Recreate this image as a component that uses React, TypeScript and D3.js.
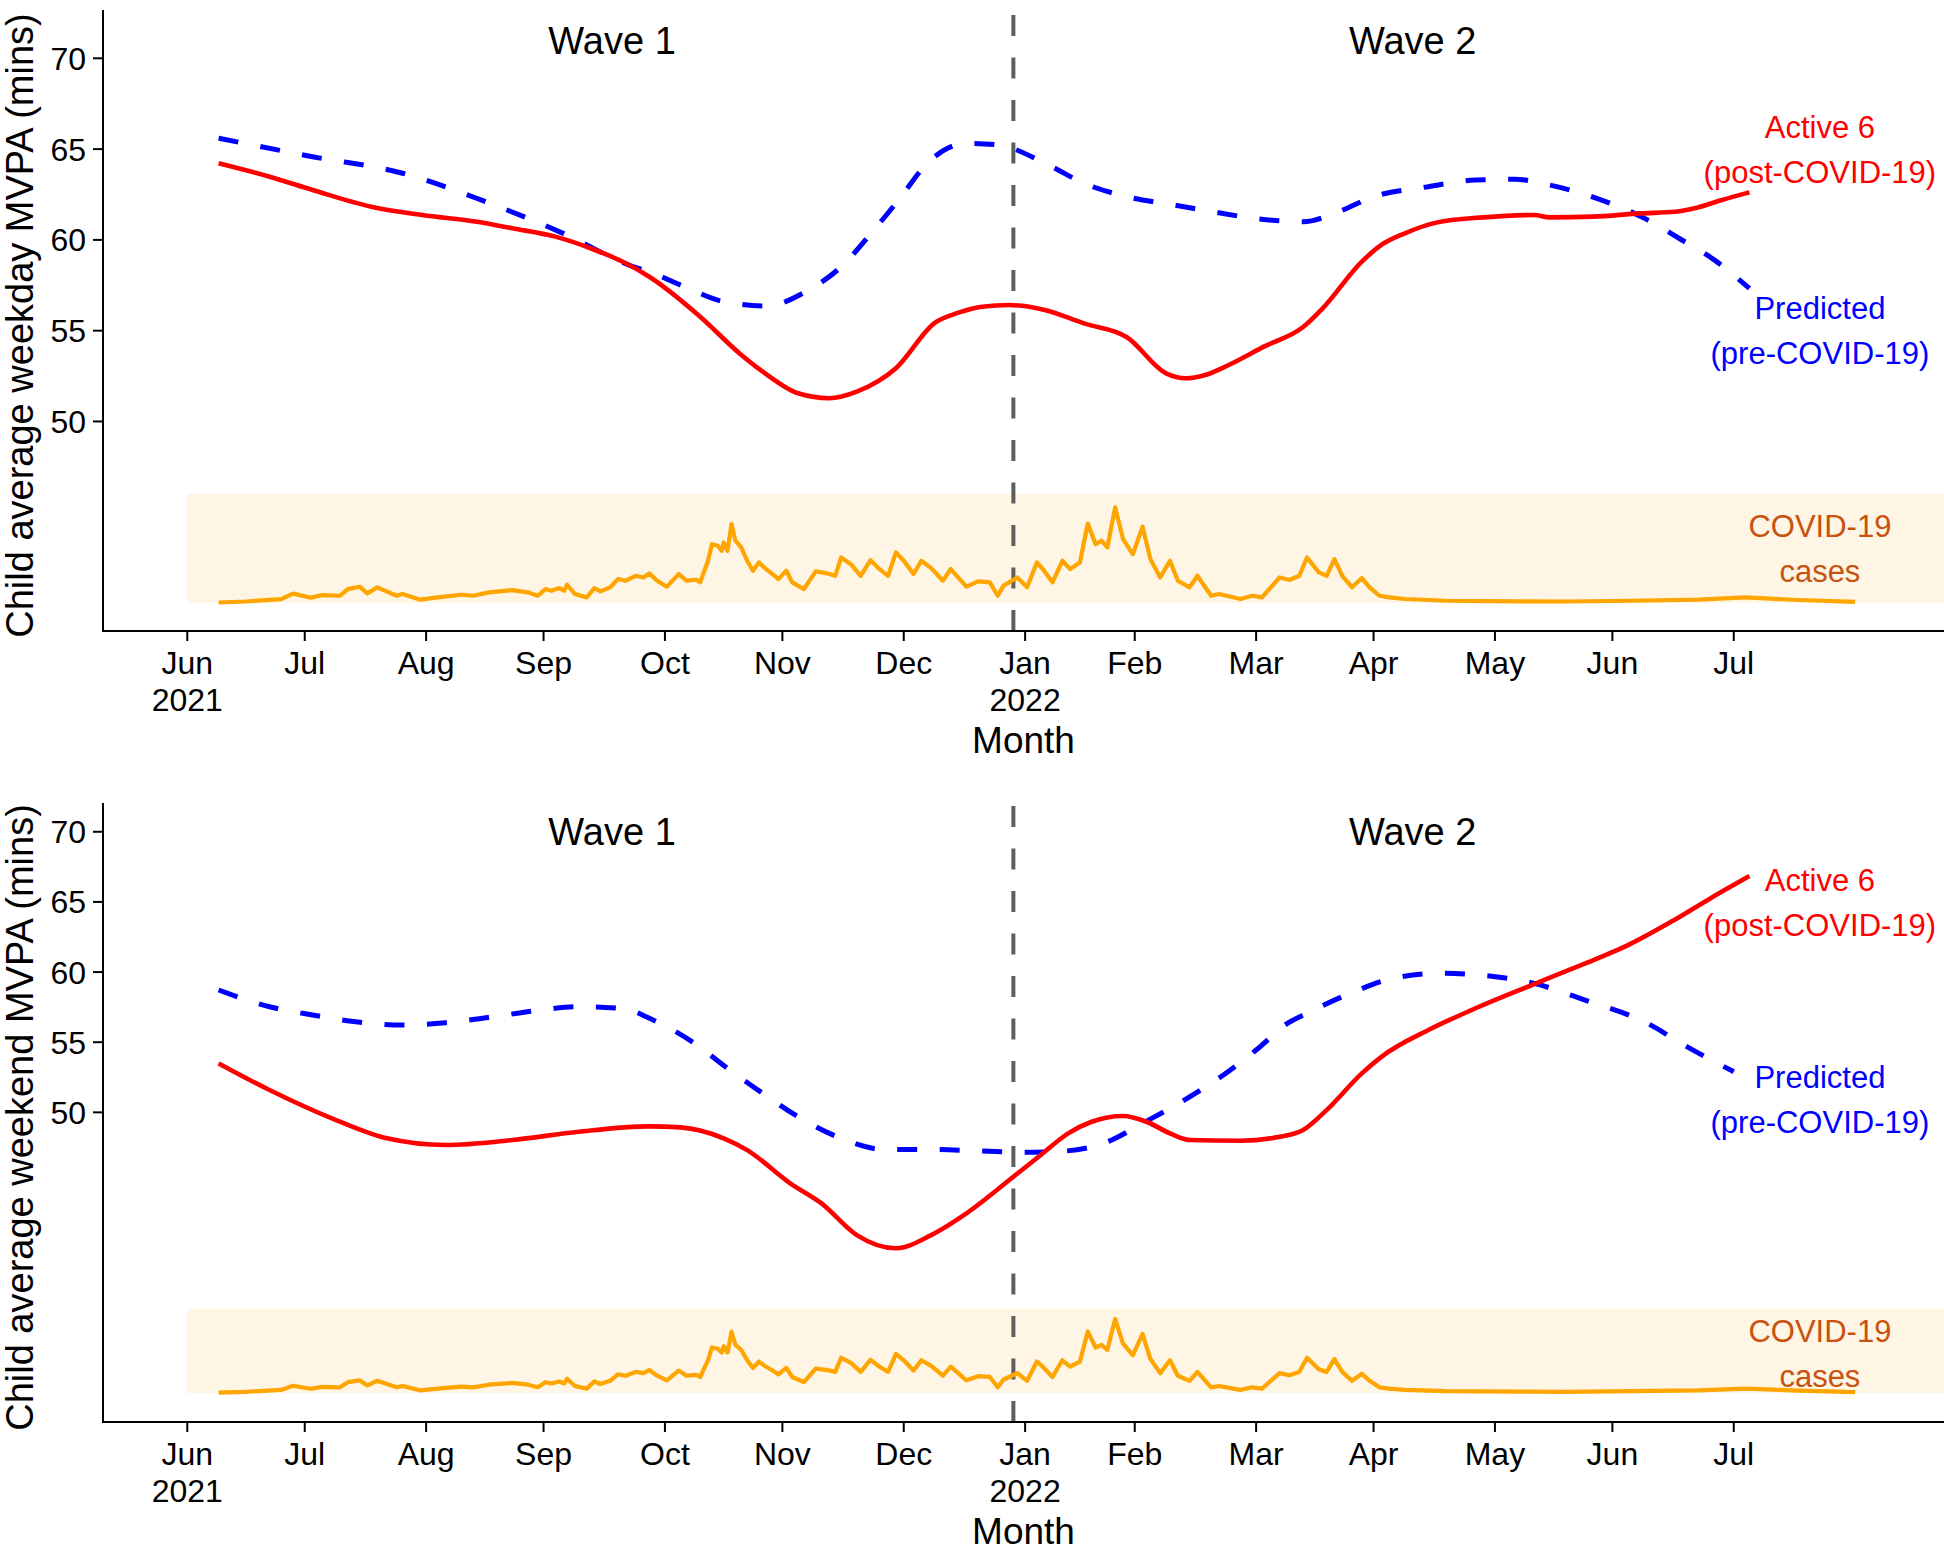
import React from "react";
import * as d3 from "d3";

const W = 1944;
const H = 1551;
const margin = { left: 103, right: 0 };
const fontFamily = "'Liberation Sans', Arial, Helvetica, sans-serif";

// x values are days since 1 June 2021
const xDomain = [-21.53, 448.7];
const monthTicks = [0, 30, 61, 91, 122, 152, 183, 214, 242, 273, 303, 334, 364, 395];
const monthLabels = ["Jun|2021", "Jul", "Aug", "Sep", "Oct", "Nov", "Dec", "Jan|2022", "Feb", "Mar", "Apr", "May", "Jun", "Jul"];
const yTicks = [50, 55, 60, 65, 70];
const waveDivider = 211;
const waveLabels = ["Wave 1", "Wave 2"];
const waveDays = [108.5, 313];
const labelDay = 417;

// weekday MVPA (mins)
const weekdayActive = [
  [8, 64.22], [21, 63.48], [32, 62.75], [47, 61.83], [60, 61.37], [74, 61.0], [83, 60.64],
  [94, 60.18], [103, 59.54], [112, 58.71], [118, 57.97], [131, 55.77], [141, 53.76],
  [147, 52.74], [156, 51.55], [164, 51.28], [171, 51.64], [181, 52.93], [191, 55.44],
  [197, 55.99], [203, 56.32], [210, 56.41], [219, 56.14], [229, 55.4], [240, 54.64],
  [250, 52.65], [255, 52.38], [260, 52.56], [266, 53.11], [275, 54.12], [285, 55.2],
  [290, 56.23], [300, 58.8], [305, 59.72], [311, 60.36], [319, 60.95], [331, 61.24],
  [344, 61.37], [348, 61.24], [359, 61.28], [371, 61.46], [380, 61.55], [385, 61.74],
  [392, 62.2], [399, 62.62],
];
const weekdayPredicted = [
  [8, 65.6], [32, 64.58], [55, 63.67], [75, 62.2], [96, 60.36], [114, 58.52], [118, 58.25],
  [127, 57.42], [137, 56.6], [148, 56.36], [158, 57.15], [167, 58.52], [175, 60.45],
  [182, 62.29], [189, 64.22], [199, 65.32], [207, 65.23], [220, 64.12], [229, 63.12],
  [240, 62.38], [252, 61.92], [262, 61.55], [272, 61.2], [285, 61.0], [294, 61.55],
  [303, 62.38], [317, 62.93], [329, 63.3], [339, 63.34], [348, 63.02], [360, 62.29],
  [373, 61.1], [381, 60.09], [390, 58.9], [399, 57.33],
];

// weekend MVPA (mins)
const weekendActive = [
  [8, 53.49], [21, 51.59], [38, 49.45], [51, 48.15], [66, 47.67], [83, 48.03], [100, 48.62],
  [118, 49.0], [126, 48.93], [137, 48.15], [143, 47.31], [154, 44.94], [162, 43.51],
  [171, 41.25], [181, 40.31], [190, 41.25], [199, 42.8], [211, 45.41], [218, 46.96],
  [225, 48.5], [231, 49.33], [239, 49.74], [245, 49.33], [251, 48.5], [256, 48.03],
  [269, 47.98], [279, 48.26], [285, 48.74], [291, 50.16], [300, 52.78], [305, 53.96],
  [317, 55.87], [328, 57.29], [344, 59.14], [356, 60.5], [368, 61.92], [379, 63.58],
  [389, 65.25], [399, 66.84],
];
const weekendPredicted = [
  [8, 58.72], [21, 57.53], [32, 56.94], [43, 56.46], [55, 56.22], [66, 56.39], [78, 56.81],
  [89, 57.24], [100, 57.53], [111, 57.41], [119, 56.58], [129, 55.03], [138, 53.14],
  [147, 51.35], [156, 49.69], [166, 48.26], [178, 47.36], [190, 47.36], [203, 47.24],
  [214, 47.15], [224, 47.24], [235, 47.9], [244, 49.22], [254, 50.76], [264, 52.54],
  [273, 54.44], [281, 56.34], [286, 57.06], [297, 58.48], [308, 59.55], [320, 59.91],
  [330, 59.79], [344, 59.19], [357, 58.0], [373, 56.34], [383, 54.68], [395, 52.9],
];

// daily COVID-19 cases, as % of the shaded band height
const caseLevel = [
  [8, 0.5], [15, 1.4], [24, 3.6], [27, 8.6], [31.5, 5], [34.5, 7.3], [39, 6.7], [41, 12.8],
  [44, 15], [46, 8.9], [48.5, 14.4], [53.5, 6.7], [55, 8.3], [59.5, 3.1], [64, 5.2], [70, 7.6],
  [73, 6.7], [77, 9.8], [83, 11.9], [87, 9.8], [89.5, 6.7], [91.5, 12.8], [93, 11.3],
  [95, 13.7], [96.3, 11.3], [97, 16.8], [99, 8.3], [102, 5.2], [104, 13.7], [105.5, 10.7],
  [108, 14.4], [110, 22], [112, 20.5], [114.5, 25], [116.5, 23.5], [118, 27.2], [120, 20.5],
  [122.5, 15], [125.5, 26.6], [127.5, 20.5], [130, 21.4], [131, 19], [133, 38.8], [134, 54],
  [135.5, 52.5], [136.5, 48], [137, 55.6], [138, 48], [139, 72.5], [140, 57.2], [141.5, 51],
  [143, 38.8], [144.5, 29.7], [146, 37.3], [147.5, 32.1], [149.5, 26.6], [151, 22],
  [153, 29.7], [154.5, 19], [157.5, 12.8], [160.5, 29], [163.5, 27.2], [165.5, 25],
  [167, 41.8], [169.5, 35.7], [172, 25], [174.5, 39.4], [176.5, 32.1], [179, 25], [181, 46.4],
  [183, 38.8], [185.5, 26.6], [187.5, 38.8], [190, 32.1], [193, 20.5], [195, 31.2], [199, 15],
  [202, 19.9], [205, 19], [207, 6.7], [208.5, 16], [212, 23.5], [214.5, 14.4], [217, 37.3],
  [218.5, 31.2], [221, 19], [223.5, 38.8], [225.5, 31.2], [228, 37.3], [230, 73], [232, 54],
  [233.5, 57.2], [235, 51], [237, 87.8], [239, 58.7], [241.5, 44.9], [244, 70], [246, 40.3],
  [248.5, 23.5], [251, 38.8], [253, 20.5], [256, 14.4], [258, 25], [261.5, 6.7], [263.5, 8.3],
  [269, 3.7], [272, 6.7], [274.5, 5.2], [279, 23.5], [281.5, 21.1], [284, 25], [286, 41.8],
  [289, 28.1], [291, 25], [293, 40.3], [295, 25], [297.5, 14.4], [300, 22.9], [302, 14.4],
  [304.5, 6.7], [307, 5.2], [311, 3.7], [321.5, 2.1], [340, 1.6], [352, 1.4], [369, 2.1],
  [386, 3.1], [398, 5.2], [411.5, 2.8], [426, 1],
];

const panels = [
  {
    top: 10, bottom: 631, yDomain: [38.46, 72.66], band: [40, 46],
    active: weekdayActive, predicted: weekdayPredicted,
    title: "Child average weekday MVPA (mins)",
    waveY: 71, activeY: 65, predictedY: 55, casesY: 43,
  },
  {
    top: 803, bottom: 1422, yDomain: [27.93, 72.05], band: [30, 36],
    active: weekendActive, predicted: weekendPredicted,
    title: "Child average weekend MVPA (mins)",
    waveY: 70, activeY: 65, predictedY: 50.9, casesY: 32.8,
  },
];

function Panel({ cfg }) {
  const x = d3.scaleLinear().domain(xDomain).range([margin.left, W - margin.right]);
  const y = d3.scaleLinear().domain(cfg.yDomain).range([cfg.bottom, cfg.top]);
  const caseY = d3.scaleLinear().domain([0, 100]).range([y(cfg.band[0]), y(cfg.band[1])]);

  const line = d3.line<number[]>()
    .x(d => x(d[0]))
    .y(d => y(d[1]))
    .curve(d3.curveMonotoneX);
  const caseLine = d3.line<number[]>()
    .x(d => x(d[0]))
    .y(d => caseY(d[1]));

  // two-line labels, centred on a data point
  const twoLines = (lines, yVal, color) =>
    lines.map((t, i) => (
      <text key={t} x={x(labelDay)} y={y(yVal) + (i === 0 ? -22.5 : 22.5)} dy="0.36em"
        textAnchor="middle" fill={color} fontSize={31}>{t}</text>
    ));

  const titleCenter = (cfg.top + cfg.bottom) / 2 + 5;

  return (
    <g fontFamily={fontFamily}>
      <rect x={x(0)} y={y(cfg.band[1])} width={x(xDomain[1]) - x(0)}
        height={y(cfg.band[0]) - y(cfg.band[1])} fill="#FEF5E4" />
      <line x1={x(waveDivider)} x2={x(waveDivider)} y1={cfg.bottom} y2={cfg.top}
        stroke="#5e5e5e" strokeWidth={4} strokeDasharray="21 21.5" />
      <path d={caseLine(caseLevel)} fill="none" stroke="#FFA500" strokeWidth={4.2}
        strokeLinejoin="round" />
      <path d={line(cfg.predicted)} fill="none" stroke="#0000FF" strokeWidth={5}
        strokeDasharray="20 22.5" />
      <path d={line(cfg.active)} fill="none" stroke="#FF0000" strokeWidth={4.6} />

      {waveLabels.map((t, i) => (
        <text key={t} x={x(waveDays[i])} y={y(cfg.waveY)} dy="0.36em" textAnchor="middle"
          fontSize={38} fill="#000">{t}</text>
      ))}
      {twoLines(["Active 6", "(post-COVID-19)"], cfg.activeY, "#FF0000")}
      {twoLines(["Predicted", "(pre-COVID-19)"], cfg.predictedY, "#0000FF")}
      {twoLines(["COVID-19", "cases"], cfg.casesY, "#C8520E")}

      {/* axes */}
      <line x1={margin.left} x2={margin.left} y1={cfg.top} y2={cfg.bottom + 1} stroke="#000" strokeWidth={2} />
      <line x1={margin.left - 1} x2={W} y1={cfg.bottom} y2={cfg.bottom} stroke="#000" strokeWidth={2} />
      {yTicks.map(v => (
        <g key={v}>
          <line x1={margin.left - 10} x2={margin.left} y1={y(v)} y2={y(v)} stroke="#000" strokeWidth={2} />
          <text x={margin.left - 17} y={y(v)} dy="0.36em" textAnchor="end" fontSize={32}>{v}</text>
        </g>
      ))}
      {monthTicks.map((d, i) => (
        <g key={d}>
          <line x1={x(d)} x2={x(d)} y1={cfg.bottom} y2={cfg.bottom + 10} stroke="#000" strokeWidth={2} />
          {monthLabels[i].split("|").map((t, j) => (
            <text key={t} x={x(d)} y={cfg.bottom + 43 + j * 36.7} textAnchor="middle" fontSize={32}>{t}</text>
          ))}
        </g>
      ))}
      <text x={(margin.left + W) / 2} y={cfg.bottom + 122} textAnchor="middle" fontSize={37}>Month</text>
      <text transform={"rotate(-90)"} x={-titleCenter} y={33} textAnchor="middle" fontSize={38}>{cfg.title}</text>
    </g>
  );
}

export default function App() {
  return (
    <div style={{ position: "absolute", left: 0, top: 0 }}>
      <svg width={W} height={H} style={{ display: "block", background: "#fff" }}>
        {panels.map((p, i) => <Panel key={i} cfg={p} />)}
      </svg>
    </div>
  );
}
